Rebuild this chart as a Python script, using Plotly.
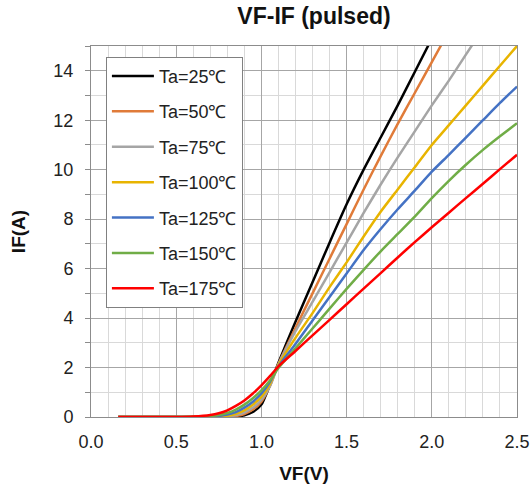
import plotly.graph_objects as go

# Forward voltage grid (V)
vf = [0.16, 0.5, 0.6, 0.7, 0.75, 0.8, 0.85, 0.9, 0.95, 1.0, 1.05, 1.1, 1.2, 1.3,
      1.4, 1.5, 1.6, 1.7, 1.8, 1.9, 2.0, 2.1, 2.2, 2.3, 2.4, 2.5]

# Forward current (A) per ambient temperature
if_25 = [0, 0, 0, 0, 0, 0, 0.02, 0.07, 0.2, 0.5, 1.3, 2.2, 3.85, 5.45, 7.05, 8.6,
         10.0, 11.3, 12.6, 13.95, 15.3]
if_50 = [0, 0, 0, 0, 0, 0.01, 0.04, 0.12, 0.3, 0.62, 1.25, 2.15, 3.6, 5.0, 6.4, 7.8,
         9.2, 10.55, 11.85, 13.1, 14.35, 15.6]
if_75 = [0, 0, 0, 0, 0.01, 0.03, 0.08, 0.18, 0.38, 0.7, 1.25, 2.12, 3.47, 4.65, 5.85,
         7.05, 8.25, 9.4, 10.5, 11.55, 12.6, 13.6, 14.65, 15.7]
if_100 = [0, 0, 0, 0.01, 0.02, 0.05, 0.13, 0.27, 0.5, 0.82, 1.33, 2.1, 3.2, 4.2, 5.25,
          6.25, 7.3, 8.3, 9.2, 10.1, 11.0, 11.8, 12.6, 13.4, 14.2, 15.0]
if_125 = [0, 0, 0, 0.02, 0.05, 0.1, 0.2, 0.38, 0.62, 0.95, 1.42, 2.05, 2.95, 3.9, 4.85,
          5.8, 6.75, 7.6, 8.4, 9.15, 9.92, 10.6, 11.3, 12.0, 12.7, 13.36]
if_150 = [0, 0, 0.01, 0.04, 0.08, 0.16, 0.3, 0.5, 0.76, 1.08, 1.48, 1.98, 2.78, 3.58,
          4.38, 5.18, 5.95, 6.7, 7.4, 8.1, 8.85, 9.55, 10.2, 10.8, 11.35, 11.88]
if_175 = [0, 0, 0.02, 0.08, 0.15, 0.27, 0.45, 0.67, 0.95, 1.28, 1.65, 2.05, 2.67, 3.3,
          3.93, 4.56, 5.19, 5.82, 6.45, 7.07, 7.67, 8.26, 8.85, 9.43, 10.02, 10.6]

series_names = ["Ta=25℃", "Ta=50℃", "Ta=75℃", "Ta=100℃", "Ta=125℃", "Ta=150℃", "Ta=175℃"]
series_values = [if_25, if_50, if_75, if_100, if_125, if_150, if_175]
series_colors = ["#000000", "#E07B39", "#A5A5A5", "#E8B400", "#4472C4", "#70AD47", "#FF0000"]

x_ticks = [0.0, 0.5, 1.0, 1.5, 2.0, 2.5]
x_tick_labels = ["0.0", "0.5", "1.0", "1.5", "2.0", "2.5"]
y_ticks = [0, 2, 4, 6, 8, 10, 12, 14]
y_tick_labels = ["0", "2", "4", "6", "8", "10", "12", "14"]

FONT = "Liberation Sans, Arial, sans-serif"

fig = go.Figure()
for name, vals, col in zip(series_names, series_values, series_colors):
    fig.add_trace(go.Scatter(
        x=vf[:len(vals)], y=vals, mode="lines", name=name,
        legendgroup=name,
        line=dict(color=col, width=2.5, shape="spline", smoothing=0.6),
    ))

fig.update_layout(
    width=530, height=488,
    margin=dict(l=91, r=13, t=46, b=71),
    paper_bgcolor="white", plot_bgcolor="white",
    font=dict(family=FONT, size=18, color="#222"),
    title=dict(text="<b>VF-IF (pulsed)</b>", x=314 / 530, xanchor="center",
               y=1 - 16 / 488, yanchor="middle",
               font=dict(family=FONT, size=23, color="#111")),
    legend=dict(x=0.035, y=0.971, xanchor="left", yanchor="top",
                bgcolor="white", bordercolor="#808080", borderwidth=1,
                font=dict(family=FONT, size=18, color="#222"),
                tracegroupgap=9, traceorder="grouped", itemwidth=42),
    showlegend=True,
)

fig.update_xaxes(
    range=[0, 2.5], tickvals=x_ticks, ticktext=x_tick_labels,
    showgrid=True, gridcolor="#A6A6A6", gridwidth=1,
    minor=dict(dtick=0.1, showgrid=True, gridcolor="#D9D9D9", gridwidth=1),
    showline=True, linecolor="#8C8C8C", linewidth=1, mirror=True,
    ticks="", ticklabelstandoff=8, automargin=False,
    zeroline=False,
    title=dict(text="<b>VF(V)</b>", font=dict(family=FONT, size=19, color="#111"), standoff=16),
)
fig.update_yaxes(
    range=[0, 15], tickvals=y_ticks, ticktext=y_tick_labels,
    showgrid=True, gridcolor="#A6A6A6", gridwidth=1,
    minor=dict(dtick=1, showgrid=True, gridcolor="#D9D9D9", gridwidth=1,
               ticks="outside", ticklen=5, tickcolor="#8C8C8C"),
    showline=True, linecolor="#8C8C8C", linewidth=1, mirror=True,
    ticks="outside", ticklen=5, tickcolor="#8C8C8C", ticklabelstandoff=8,
    zeroline=False, automargin=False,
    title=dict(text="<b>IF(A)</b>", font=dict(family=FONT, size=19, color="#111"), standoff=22),
)

fig.write_html("out.html")
